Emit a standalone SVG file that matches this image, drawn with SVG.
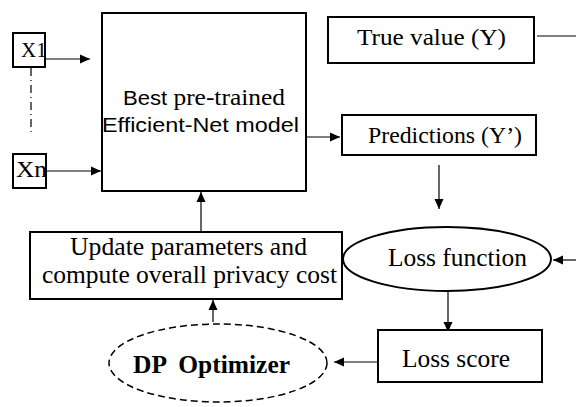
<svg xmlns="http://www.w3.org/2000/svg" width="576" height="407" viewBox="0 0 576 407">
<style>
.box{fill:#fff;stroke:#000;stroke-width:2}
.ln{fill:none;stroke:#000;stroke-width:1.2}
.serif{font-family:"Liberation Serif","Times New Roman",serif;fill:#000}
.sans{font-family:"Liberation Sans",Arial,sans-serif;fill:#000}
</style>
<defs>
<marker id="ah" markerWidth="10" markerHeight="10" viewBox="0 0 10 10" refX="10" refY="5" orient="auto" markerUnits="userSpaceOnUse">
<path d="M0,0.5 L10,5 L0,9.5 Z" fill="#000"/>
</marker>
</defs>
<rect width="576" height="407" fill="#fff"/>
<g id="connectors">
<line class="ln" x1="31" y1="68" x2="31" y2="132" stroke-dasharray="8,4,1,4"/>
<line class="ln" x1="46" y1="59" x2="90" y2="59" marker-end="url(#ah)"/>
<line class="ln" x1="47" y1="171" x2="101" y2="171" marker-end="url(#ah)"/>
<line class="ln" x1="306" y1="137" x2="340" y2="137" marker-end="url(#ah)"/>
<line class="ln" x1="537" y1="36" x2="576" y2="36"/>
<line class="ln" x1="439" y1="165" x2="439" y2="209" marker-end="url(#ah)"/>
<line class="ln" x1="576" y1="260" x2="553" y2="260" marker-end="url(#ah)"/>
<line class="ln" x1="448" y1="291" x2="448" y2="332" marker-end="url(#ah)"/>
<line class="ln" x1="378" y1="362" x2="334" y2="362" marker-end="url(#ah)"/>
<line class="ln" x1="213" y1="322" x2="213" y2="300" marker-end="url(#ah)"/>
<line class="ln" x1="201" y1="232" x2="201" y2="192" marker-end="url(#ah)"/>
</g>
<g id="x1">
<rect class="box" x="13" y="33" width="32" height="34"/>
<text class="serif" x="21" y="57" font-size="21">X1</text>
</g>
<g id="xn">
<rect class="box" x="13" y="154" width="33" height="34"/>
<text class="serif" x="16" y="177" font-size="24" textLength="31" lengthAdjust="spacingAndGlyphs">Xn</text>
</g>
<g id="model">
<rect class="box" x="102" y="13" width="204" height="178"/>
<text class="sans" x="123" y="105" font-size="20" textLength="162" lengthAdjust="spacingAndGlyphs">Best <tspan font-family="Liberation Serif, serif" font-size="23">pre-trained</tspan></text>
<text class="sans" x="102" y="132" font-size="20" textLength="197" lengthAdjust="spacingAndGlyphs">Efficient-Net model</text>
</g>
<g id="truevalue">
<rect class="box" x="328" y="17" width="206" height="46"/>
<text class="serif" x="357" y="45" font-size="24" textLength="149" lengthAdjust="spacingAndGlyphs">True value (Y)</text>
</g>
<g id="predictions">
<rect class="box" x="342" y="115" width="194" height="40"/>
<text class="serif" x="368" y="143" font-size="24" textLength="154" lengthAdjust="spacingAndGlyphs">Predictions (Y’)</text>
</g>
<g id="lossfunction">
<ellipse cx="447" cy="259" rx="104" ry="32" fill="#fff" stroke="#000" stroke-width="2"/>
<text class="serif" x="388" y="266" font-size="25" textLength="139" lengthAdjust="spacingAndGlyphs">Loss function</text>
</g>
<g id="lossscore">
<rect class="box" x="378" y="330" width="164" height="52"/>
<text class="serif" x="402" y="367" font-size="25" textLength="108" lengthAdjust="spacingAndGlyphs">Loss score</text>
</g>
<g id="update">
<rect class="box" x="30" y="232" width="312" height="67"/>
<text class="serif" x="70" y="255" font-size="25" textLength="237" lengthAdjust="spacingAndGlyphs">Update parameters and</text>
<text class="serif" x="42" y="283" font-size="25" textLength="295" lengthAdjust="spacingAndGlyphs">compute overall privacy cost</text>
</g>
<g id="dpoptimizer">
<ellipse cx="218" cy="363" rx="109" ry="39" fill="#fff" stroke="#000" stroke-width="1.5" stroke-dasharray="7,4"/>
<text class="serif" x="133" y="373" font-size="25" font-weight="bold" textLength="157" lengthAdjust="spacingAndGlyphs" xml:space="preserve">DP  Optimizer</text>
</g>
</svg>
